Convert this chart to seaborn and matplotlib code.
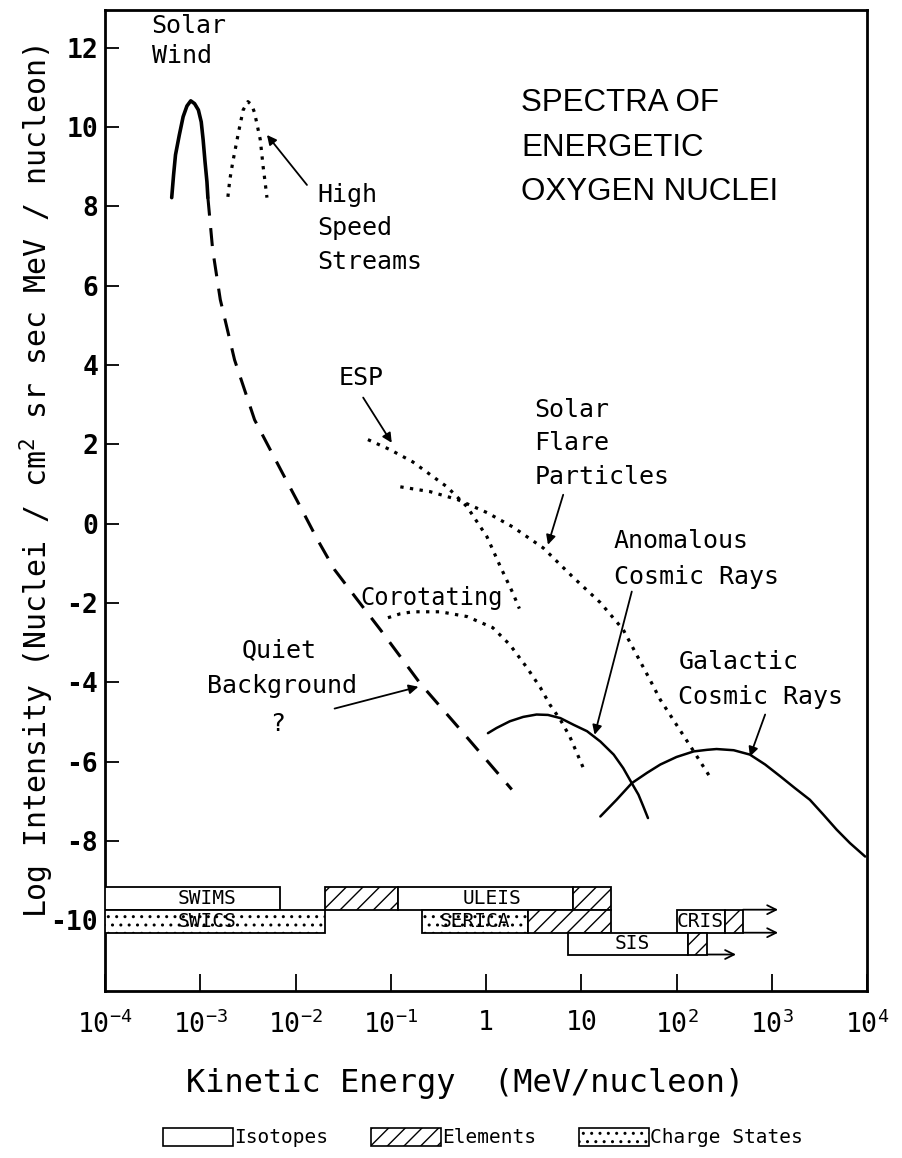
import numpy as np
import pandas as pd
import matplotlib
matplotlib.use("Agg")
import matplotlib.pyplot as plt
import seaborn as sns
from matplotlib.patches import Patch

# ---------------- data: log10(E [MeV/nucleon]) and log10(intensity) ----------------
solar_wind_logE = [-3.30, -3.28, -3.26, -3.22, -3.18, -3.14, -3.10, -3.06, -3.02, -2.99, -2.97, -2.95, -2.93, -2.92]
solar_wind_logI = [8.22, 8.80, 9.30, 9.80, 10.26, 10.53, 10.66, 10.59, 10.43, 10.13, 9.68, 9.12, 8.62, 8.22]

hss_logE = [-2.71, -2.69, -2.66, -2.60, -2.55, -2.50, -2.46, -2.43, -2.37, -2.34, -2.32, -2.30]
hss_logI = [8.24, 8.67, 9.10, 9.85, 10.43, 10.64, 10.56, 10.36, 9.68, 9.00, 8.62, 8.22]

quiet_logE = [-2.92, -2.87, -2.79, -2.64, -2.43, -2.14, -1.95, -1.77, -1.59, -1.35, -1.11, -0.69, -0.27, 0.27]
quiet_logI = [8.22, 6.91, 5.65, 4.13, 2.62, 1.29, 0.43, -0.40, -1.16, -1.92, -2.67, -4.03, -5.19, -6.70]

esp_logE = [-1.24, -1.01, -0.77, -0.41, -0.20, 0.01, 0.15, 0.28, 0.35]
esp_logI = [2.12, 1.87, 1.56, 0.93, 0.43, -0.33, -1.08, -1.74, -2.14]

sfp_logE = [-0.90, -0.59, -0.30, 0.01, 0.28, 0.60, 0.91, 1.20, 1.44, 1.72, 1.83, 2.17, 2.35]
sfp_logI = [0.93, 0.81, 0.61, 0.28, -0.08, -0.61, -1.34, -1.99, -2.67, -3.93, -4.44, -5.70, -6.38]

corot_logE = [-1.03, -0.90, -0.77, -0.48, -0.20, 0.07, 0.25, 0.43, 0.57, 0.67, 0.78, 0.88, 1.02]
corot_logI = [-2.37, -2.27, -2.22, -2.22, -2.34, -2.62, -3.05, -3.63, -4.13, -4.56, -4.94, -5.37, -6.15]

acr_logE = [0.02, 0.11, 0.25, 0.39, 0.53, 0.65, 0.78, 0.92, 1.06, 1.20, 1.34, 1.44, 1.53, 1.60, 1.65, 1.70]
acr_logI = [-5.28, -5.15, -4.98, -4.87, -4.81, -4.82, -4.90, -5.07, -5.23, -5.49, -5.82, -6.16, -6.54, -6.83, -7.12, -7.42]

gcr_logE = [1.20, 1.37, 1.53, 1.69, 1.83, 2.00, 2.18, 2.32, 2.42, 2.60, 2.77, 2.93, 3.09,
            3.24, 3.40, 3.54, 3.68, 3.82, 3.98]
gcr_logI = [-7.38, -6.96, -6.54, -6.28, -6.07, -5.88, -5.74, -5.70, -5.68, -5.71, -5.82, -6.07, -6.37,
            -6.66, -6.96, -7.33, -7.71, -8.05, -8.39]

x_ticks = [1e-4, 1e-3, 1e-2, 1e-1, 1, 10, 1e2, 1e3, 1e4]
x_ticklabels = [r'$10^{-4}$', r'$10^{-3}$', r'$10^{-2}$', r'$10^{-1}$', '1', '10',
                r'$10^{2}$', r'$10^{3}$', r'$10^{4}$']
y_ticks = [-10, -8, -6, -4, -2, 0, 2, 4, 6, 8, 10, 12]

# instrument coverage bars: (row, E_start, E_end, kind, label)
instr_rows = [1, 1, 1, 1, 2, 2, 2, 2, 2, 3, 3]
instr_start = [1e-4, 0.0204, 0.119, 8.18, 1e-4, 0.213, 2.76, 101, 323, 7.26, 132]
instr_end = [0.00687, 0.119, 8.18, 20.5, 0.0204, 2.76, 20.5, 323, 499, 132, 209]
instr_kind = ['iso', 'elem', 'iso', 'elem', 'charge', 'charge', 'elem', 'iso', 'elem', 'iso', 'elem']
instr_names = ['SWIMS', '', 'ULEIS', '', 'SWICS', 'SERICA', '', 'CRIS', '', 'SIS', '']
instr_label_E = [1.18e-3, None, 1.16, None, 1.18e-3, 0.77, None, 177, None, 34, None]
row_top = {1: -9.15, 2: -9.73, 3: -10.31}
row_bottom = {1: -9.73, 2: -10.31, 3: -10.86}

# ---------------- style ----------------
sns.set_theme(style="white")
plt.rcParams['font.family'] = ['DejaVu Sans Mono', 'DejaVu Sans']
plt.rcParams['mathtext.fontset'] = 'custom'
plt.rcParams['mathtext.rm'] = 'DejaVu Sans Mono'
plt.rcParams['mathtext.it'] = 'DejaVu Sans Mono'
plt.rcParams['mathtext.bf'] = 'DejaVu Sans Mono:bold'
plt.rcParams['lines.scale_dashes'] = False
plt.rcParams['hatch.linewidth'] = 1.0
plt.rcParams['hatch.color'] = 'black'
for k in ['text.color', 'axes.labelcolor', 'xtick.color', 'ytick.color', 'axes.edgecolor']:
    plt.rcParams[k] = 'black'

fig = plt.figure(figsize=(9.03, 11.58), dpi=100)
fig.patch.set_facecolor('white')
ax = fig.add_axes([0.1163, 0.1442, 0.8439, 0.8475])
ax.set_facecolor('white')


def curve(logE, logI, lw, ls):
    df = pd.DataFrame({'E': 10.0 ** np.array(logE), 'I': logI})
    n0 = len(ax.lines)
    sns.lineplot(data=df, x='E', y='I', ax=ax, color='black', linewidth=lw,
                 sort=False, estimator=None)
    ln = ax.lines[n0]
    ln.set_linestyle(ls)
    ln.set_dash_capstyle('butt')
    ln.set_solid_joinstyle('round')
    return ln


dot = (0, (2.4, 4.6))
dash = (0, (13, 9))
curve(solar_wind_logE, solar_wind_logI, 2.6, '-')
curve(hss_logE, hss_logI, 2.3, dot)
curve(quiet_logE, quiet_logI, 2.2, dash)
curve(esp_logE, esp_logI, 2.3, dot)
curve(sfp_logE, sfp_logI, 2.3, dot)
curve(corot_logE, corot_logI, 2.3, dot)
curve(acr_logE, acr_logI, 1.8, '-')
curve(gcr_logE, gcr_logI, 1.8, '-')

ax.set_xscale('log')
ax.set_xlim(1e-4, 1e4)
ax.set_ylim(-11.78, 12.96)

# ---------------- instrument bars ----------------
hatch_of = {'iso': None, 'elem': '//', 'charge': '..'}
for r, e0, e1, k in zip(instr_rows, instr_start, instr_end, instr_kind):
    top, bot = row_top[r], row_bottom[r]
    ax.barh((top + bot) / 2, e1 - e0, left=e0, height=top - bot, facecolor='white',
            edgecolor='black', linewidth=1.3, hatch=hatch_of[k], zorder=3)
for r, name, le in zip(instr_rows, instr_names, instr_label_E):
    if name:
        ax.text(le, (row_top[r] + row_bottom[r]) / 2, name, ha='center', va='center',
                fontsize=14, zorder=4)

# open-ended coverage arrows (CRIS, SIS)
arrow_kw = dict(arrowstyle='->', lw=1.3, color='black', mutation_scale=16, shrinkA=0, shrinkB=0)
ax.annotate('', xy=(1164, row_top[2]), xytext=(499, row_top[2]), arrowprops=arrow_kw, zorder=3)
ax.annotate('', xy=(1164, row_bottom[2]), xytext=(499, row_bottom[2]), arrowprops=arrow_kw, zorder=3)
ax.annotate('', xy=(421, row_bottom[3]), xytext=(209, row_bottom[3]), arrowprops=arrow_kw, zorder=3)

# ---------------- axes formatting ----------------
ax.set_xticks(x_ticks)
ax.set_xticklabels(x_ticklabels, fontsize=19)
ax.xaxis.set_minor_locator(matplotlib.ticker.NullLocator())
ax.set_yticks(y_ticks)
ax.set_yticklabels([str(v) for v in y_ticks], fontsize=19, fontweight='bold')
ax.tick_params(axis='x', direction='in', length=12, width=1.3, pad=14, bottom=True, top=False)
ax.tick_params(axis='y', direction='in', length=10, width=1.3, pad=5, left=True, right=False)
for s in ax.spines.values():
    s.set_linewidth(2.0)
    s.set_color('black')
    s.set_visible(True)

ax.set_xlabel('Kinetic Energy  (MeV/nucleon)', fontsize=23)
ax.xaxis.set_label_coords(0.472, -0.078)
ax.set_ylabel('Log Intensity (Nuclei / cm$^{2}$ sr sec MeV / nucleon)', fontsize=21.5)
ax.yaxis.set_label_coords(-0.064, 0.519)

# ---------------- annotations ----------------
lab = dict(fontsize=18, color='black', va='center', zorder=5)
ax.text(10 ** -3.51, 12.55, 'Solar', ha='left', **lab)
ax.text(10 ** -3.51, 11.80, 'Wind', ha='left', **lab)
for t, yy in zip(['High', 'Speed', 'Streams'], [8.29, 7.46, 6.60]):
    ax.text(10 ** -1.77, yy, t, ha='left', **lab)
ax.text(10 ** -1.55, 3.68, 'ESP', ha='left', **lab)
for t, yy in zip(['Solar', 'Flare', 'Particles'], [2.87, 2.04, 1.18]):
    ax.text(10 ** 0.51, yy, t, ha='left', **lab)
for t, yy in zip(['Anomalous', 'Cosmic Rays'], [-0.43, -1.34]):
    ax.text(10 ** 1.34, yy, t, ha='left', **lab)
ax.text(10 ** -1.32, -1.87, 'Corotating', ha='left', fontsize=17, va='center', zorder=5)
ax.text(10 ** -2.17, -3.18, 'Quiet', ha='center', **lab)
ax.text(10 ** -2.14, -4.08, 'Background', ha='center', **lab)
ax.text(10 ** -2.19, -5.04, '?', ha='center', **lab)
for t, yy in zip(['Galactic', 'Cosmic Rays'], [-3.48, -4.36]):
    ax.text(10 ** 2.02, yy, t, ha='left', **lab)

for t, yy in zip(['SPECTRA OF', 'ENERGETIC', 'OXYGEN NUCLEI'], [10.61, 9.48, 8.37]):
    ax.text(10 ** 0.37, yy, t, ha='left', va='center', fontsize=22.5,
            family=['Liberation Sans', 'DejaVu Sans'])

pointer = dict(arrowstyle='-|>', lw=1.3, color='black', mutation_scale=14,
               shrinkA=0, shrinkB=0)
arrows = [((-2.30, 9.80), (-1.88, 8.54)),
          ((-0.99, 2.04), (-1.29, 3.18)),
          ((0.65, -0.53), (0.81, 0.73)),
          ((1.14, -5.32), (1.53, -1.71)),
          ((2.77, -5.87), (2.93, -4.81)),
          ((-0.71, -4.11), (-1.59, -4.66))]
for (hx, hy), (tx, ty) in arrows:
    ax.annotate('', xy=(10 ** hx, hy), xytext=(10 ** tx, ty), arrowprops=pointer, zorder=5)

# ---------------- legend ----------------
handles = [Patch(facecolor='white', edgecolor='black', linewidth=1.2, label='Isotopes'),
           Patch(facecolor='white', edgecolor='black', linewidth=1.2, hatch='//', label='Elements'),
           Patch(facecolor='white', edgecolor='black', linewidth=1.2, hatch='..', label='Charge States')]
fig.legend(handles=handles, loc='lower center', bbox_to_anchor=(0.535, -0.006), ncol=3,
           frameon=False, fontsize=14, handlelength=3.6, handleheight=1.1,
           handletextpad=0.05, columnspacing=2.2)

fig.savefig('out.png', dpi=100, facecolor='white')
